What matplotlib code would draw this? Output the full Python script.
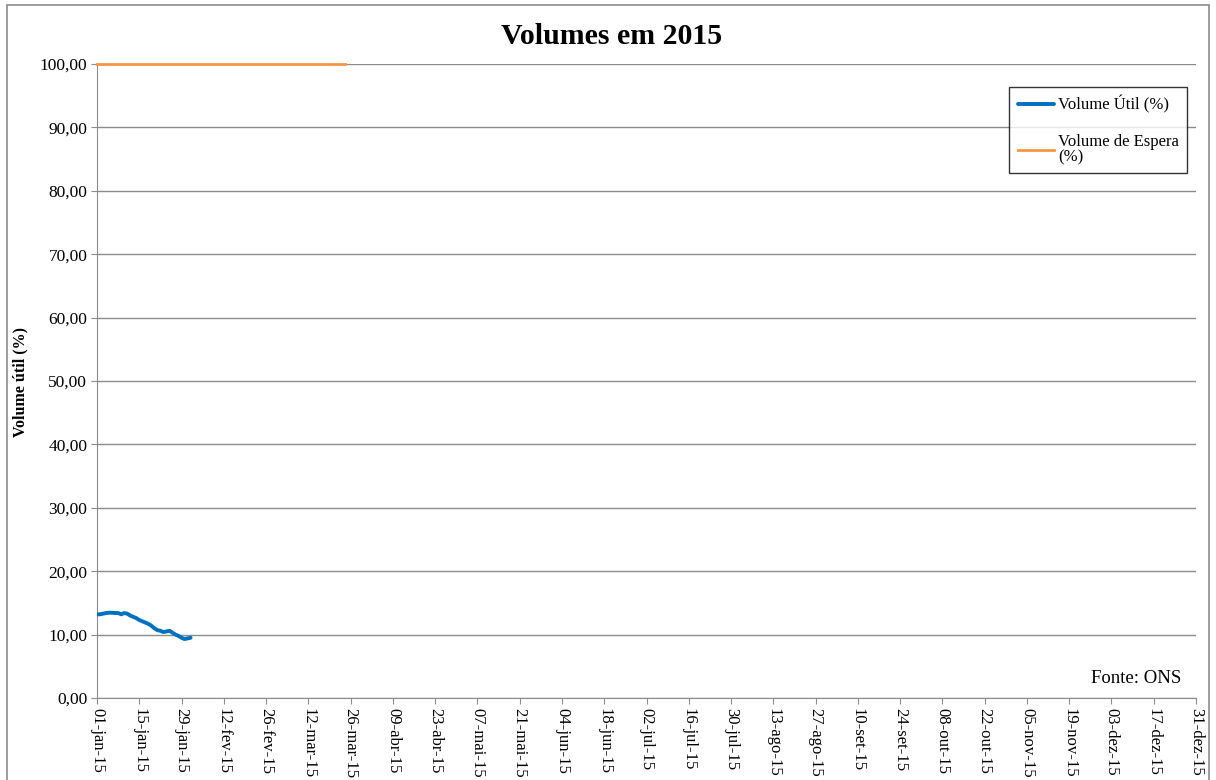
import matplotlib
matplotlib.use("Agg")
import matplotlib.pyplot as plt
import pandas as pd

# Volume útil diário (%), 01-jan a 01-fev
volume_util = [13.2, 13.2, 13.3, 13.4, 13.45, 13.45, 13.4, 13.4, 13.2, 13.4,
               13.3, 13.0, 12.8, 12.6, 12.3, 12.1, 11.9, 11.7, 11.4, 11.0,
               10.7, 10.6, 10.4, 10.5, 10.6, 10.3, 10.0, 9.8, 9.5, 9.3,
               9.4, 9.5]
inicio_util = "2015-01-01"

# Volume de espera (%), 01-jan a 24-mar
inicio_espera = "2015-01-01"
fim_espera = "2015-03-24"
valor_espera = 100.0

meses = ["jan", "fev", "mar", "abr", "mai", "jun", "jul", "ago", "set", "out", "nov", "dez"]
y_ticks = [0, 10, 20, 30, 40, 50, 60, 70, 80, 90, 100]

plt.rcParams["font.family"] = ["Liberation Serif", "DejaVu Serif"]

datas_util = pd.date_range(inicio_util, periods=len(volume_util), freq="D")
datas_espera = pd.date_range(inicio_espera, fim_espera, freq="D")
espera = [valor_espera] * len(datas_espera)

W, H = 1216, 780
fig = plt.figure(figsize=(W / 100, H / 100), dpi=100)
# moldura da área do gráfico
fig.add_artist(plt.Rectangle((7 / W, -0.05), (1209 - 7) / W, 1.05 - 5 / H,
                             transform=fig.transFigure, fill=False,
                             edgecolor="#8c8c8c", lw=1.2))
ax = fig.add_axes([97 / W, 1 - 698 / H, (1196 - 97) / W, (698 - 64) / H])

ax.plot(datas_util, volume_util, color="#0070c0", lw=2.8, label="Volume Útil (%)",
        solid_capstyle="round", solid_joinstyle="round", zorder=3)
ax.plot(datas_espera, espera, color="#f79646", lw=2.0, label="Volume de Espera\n(%)",
        zorder=3, clip_on=False)

ax.set_xlim(pd.Timestamp("2015-01-01"), pd.Timestamp("2015-12-31"))
ax.set_ylim(0, 100)
ticks = pd.date_range("2015-01-01", "2015-12-31", freq="14D")
ax.set_xticks(ticks)
ax.set_xticklabels([f"{d.day:02d}-{meses[d.month - 1]}-15" for d in ticks],
                   rotation=-90, fontsize=12)
ax.set_yticks(y_ticks)
ax.set_yticklabels([f"{v:.2f}".replace(".", ",") for v in y_ticks], fontsize=12.5)
ax.yaxis.grid(True, color="#8c8c8c", lw=1)
ax.set_axisbelow(True)
for s in ["top", "right"]:
    ax.spines[s].set_visible(False)
for s in ["left", "bottom"]:
    ax.spines[s].set_color("#8c8c8c")
ax.tick_params(axis="both", direction="out", length=4, color="#8c8c8c", pad=3)

fig.text(0.503, 1 - 36 / H, "Volumes em 2015", fontsize=21.5, fontweight="bold",
         ha="center", va="center")
fig.text(20 / W, 1 - 382 / H, "Volume útil (%)", fontsize=11.5, fontweight="bold",
         rotation=90, ha="center", va="center")

leg = ax.legend(loc="upper right", bbox_to_anchor=((1187 - 97) / 1099, (698 - 87) / 634),
                borderaxespad=0, fontsize=12, frameon=True, fancybox=False,
                edgecolor="black", handlelength=2.2, labelspacing=1.25, borderpad=0.5,
                handletextpad=0.2)
leg.get_frame().set_linewidth(1.0)
for t in leg.get_texts():
    t.set_linespacing(0.9)

ax.text(0.9865, 0.018, "Fonte: ONS", transform=ax.transAxes, ha="right", va="bottom",
        fontsize=13.5)

fig.savefig("out.png", dpi=100)
